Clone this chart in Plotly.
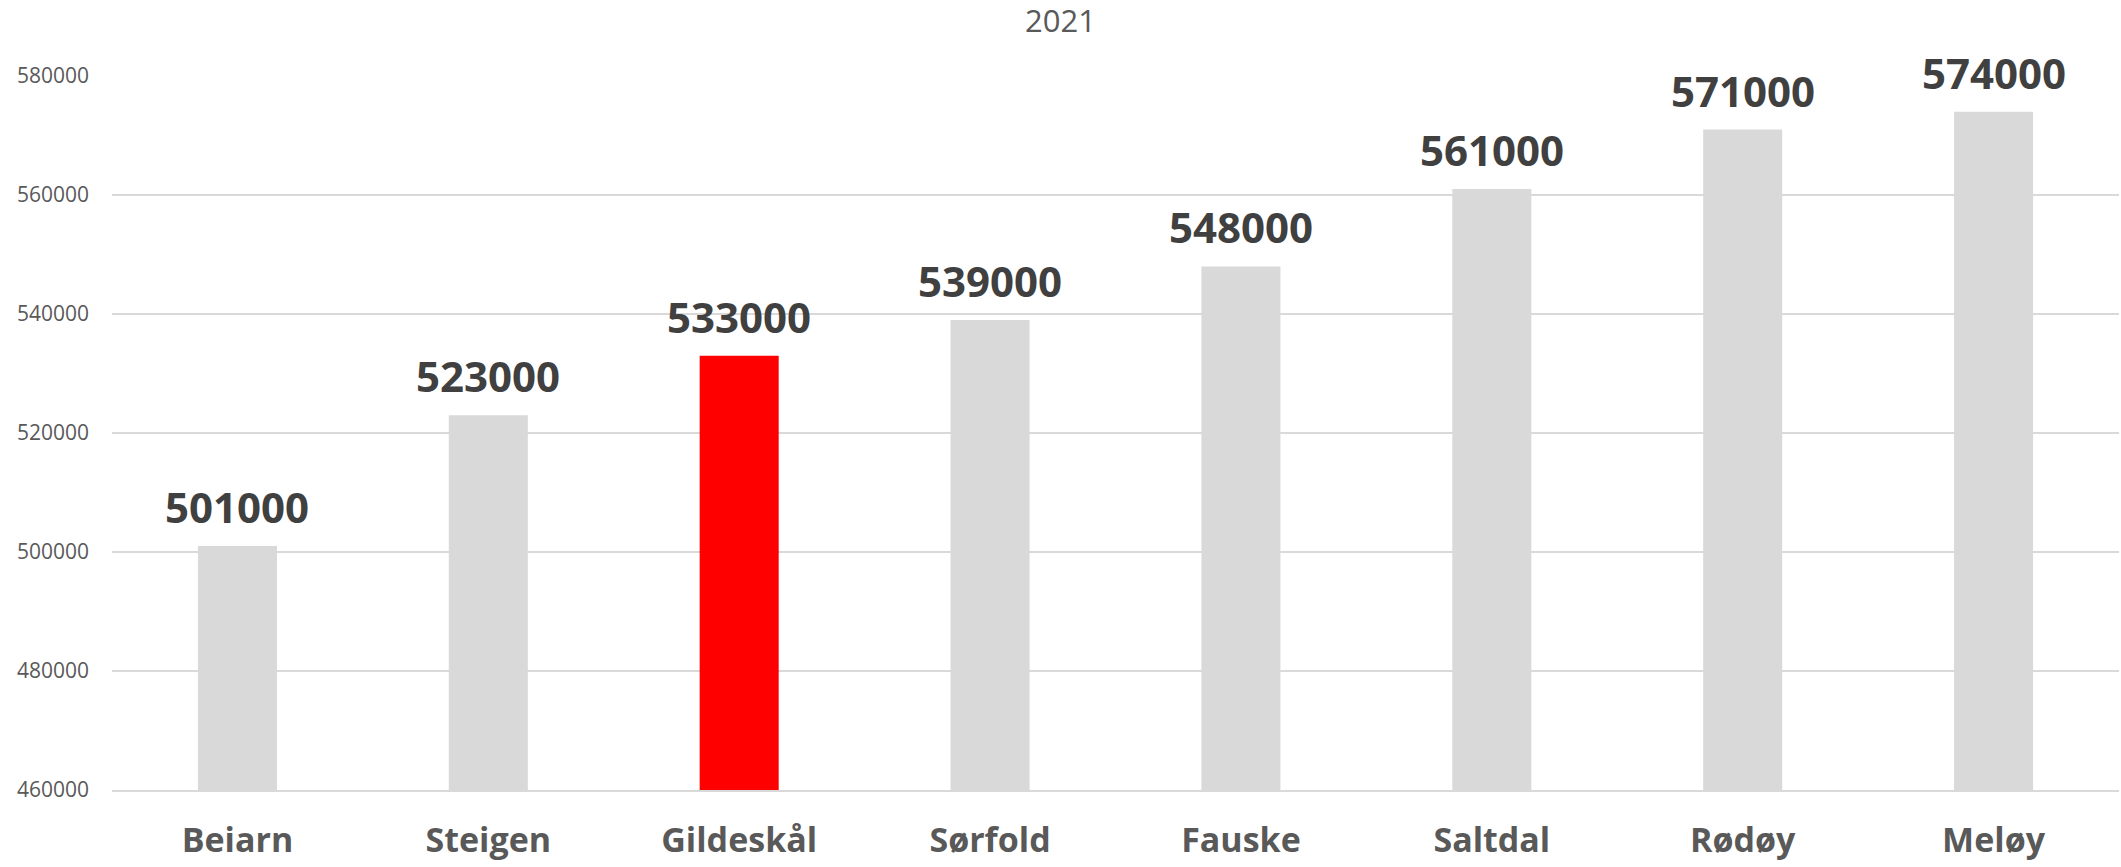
import plotly.graph_objects as go

# Municipalities and their 2021 values
kommuner = ["Beiarn", "Steigen", "Gildeskål", "Sørfold", "Fauske", "Saltdal", "Rødøy", "Meløy"]
verdier = [501000, 523000, 533000, 539000, 548000, 561000, 571000, 574000]
uthevet = "Gildeskål"

y_ticks = [460000, 480000, 500000, 520000, 540000, 560000, 580000]

farger = ["#ff0000" if k == uthevet else "#d9d9d9" for k in kommuner]

fig = go.Figure()
fig.add_trace(go.Bar(
    x=kommuner,
    y=verdier,
    marker=dict(color=farger, line=dict(width=0)),
    showlegend=False,
    hoverinfo="x+y",
))

# Value labels above each bar
for k, v in zip(kommuner, verdier):
    fig.add_annotation(
        x=k, y=v, text=f"<b>{v}</b>",
        showarrow=False, yanchor="bottom", yshift=9,
        font=dict(family="Open Sans", size=42, color="#404040"),
    )

fig.update_layout(
    width=2121, height=867,
    margin=dict(l=112, r=2, t=76, b=77),
    paper_bgcolor="white", plot_bgcolor="white",
    bargap=0.685,
    title=dict(text="2021", x=0.5, xanchor="center", y=1 - 21 / 867, yanchor="middle",
               font=dict(family="Open Sans", size=31, color="#595959")),
    font=dict(family="Open Sans"),
)

fig.update_yaxes(
    range=[460000, 580000],
    tickvals=y_ticks,
    ticktext=[str(t) for t in y_ticks],
    showgrid=True, gridcolor="#d9d9d9", gridwidth=1.5,
    zeroline=False, showline=False, automargin=False,
    ticks="", ticklabelstandoff=22,
    tickfont=dict(family="Open Sans", size=21, color="#595959"),
)

fig.update_xaxes(
    showgrid=False, zeroline=False, automargin=False,
    showline=True, linecolor="#d9d9d9", linewidth=1.5,
    ticks="", ticklabelstandoff=19,
    tickfont=dict(family="Open Sans", size=34, color="#595959", weight="bold"),
)

fig.write_html("out.html")
